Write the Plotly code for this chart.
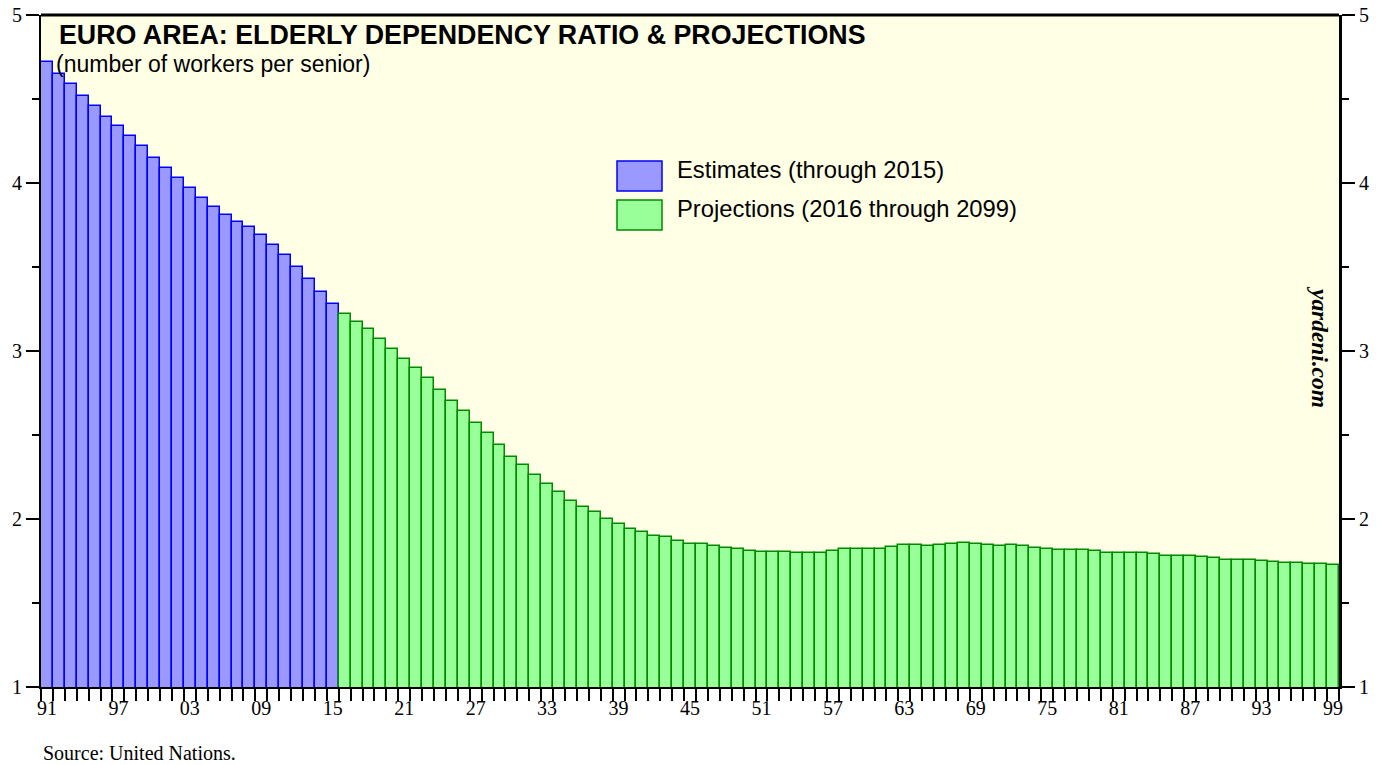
import plotly.graph_objects as go

# ---------------- data ----------------
est_years = list(range(1990, 2016))
est_values = [4.81, 4.72, 4.65, 4.59, 4.52, 4.46, 4.39, 4.34, 4.28, 4.22, 4.15,
              4.09, 4.03, 3.97, 3.91, 3.86, 3.81, 3.77, 3.74, 3.69, 3.63,
              3.57, 3.50, 3.43, 3.35, 3.28]

proj_years = list(range(2016, 2100))
proj_values = [3.22, 3.17, 3.13, 3.07, 3.01, 2.95, 2.90, 2.84, 2.77, 2.70,   # 2016-2025
               2.64, 2.57, 2.51, 2.44, 2.37, 2.32, 2.26, 2.21, 2.16, 2.11,   # 2026-2035
               2.07, 2.04, 2.00, 1.97, 1.94, 1.92, 1.90, 1.89, 1.87, 1.85,   # 2036-2045
               1.85, 1.84, 1.83, 1.82, 1.81, 1.805, 1.805, 1.805, 1.80, 1.80, # 2046-2055
               1.80, 1.81, 1.82, 1.82, 1.82, 1.823, 1.835, 1.843, 1.845, 1.84, # 2056-2065
               1.847, 1.853, 1.855, 1.85, 1.843, 1.84, 1.843, 1.837, 1.83, 1.82, # 2066-2075
               1.813, 1.813, 1.817, 1.81, 1.80, 1.80, 1.80, 1.798, 1.79, 1.78,   # 2076-2085
               1.778, 1.778, 1.776, 1.768, 1.756, 1.756, 1.754, 1.752, 1.744, 1.736, # 2086-2095
               1.736, 1.734, 1.732, 1.724]                                   # 2096-2099

label_years = list(range(1991, 2100, 6))
label_text = [f"{y % 100:02d}" for y in label_years]
boundary_ticks = [y + 0.5 for y in range(1990, 2100)]

y_major = [1, 2, 3, 4, 5]
y_minor = [1.5, 2.5, 3.5, 4.5]

legend_labels = ["Estimates (through 2015)", "Projections (2016 through 2099)"]

# ---------------- styling ----------------
W, H = 1380, 765
# target plot area on screen: x 41..1339, y 15..687
L, T = 41, 15
R = W - 1339
B = H - 687
PW, PH = W - L - R, H - T - B

def px(x):
    return (x - L) / PW

def py(y):
    return (H - B - y) / PH

BLUE_FILL, BLUE_LINE = "#9999FF", "#0000FF"
GREEN_FILL, GREEN_LINE = "#99FF99", "#008A00"
SERIF = "Liberation Serif"
SANS = "Liberation Sans"

fig = go.Figure()
fig.add_trace(go.Bar(x=est_years, y=est_values, name=legend_labels[0],
                     marker=dict(color=BLUE_FILL, line=dict(color=BLUE_LINE, width=1.5)),
                     showlegend=False))
fig.add_trace(go.Bar(x=proj_years, y=proj_values, name=legend_labels[1],
                     marker=dict(color=GREEN_FILL, line=dict(color=GREEN_LINE, width=1.5)),
                     showlegend=False))
# invisible trace to activate the right-hand axis
fig.add_trace(go.Scatter(x=[2000], y=[3], yaxis="y2", mode="markers",
                         marker=dict(opacity=0), showlegend=False, hoverinfo="skip"))

fig.update_layout(
    width=W, height=H,
    margin=dict(l=L, r=R, t=T, b=B),
    paper_bgcolor="white",
    plot_bgcolor="#FFFFE6",
    bargap=0,
    barmode="overlay",
    xaxis=dict(
        range=[1990.5, 2099.5], tickmode="array", tickvals=label_years, ticktext=label_text,
        ticks="outside", ticklen=12, tickwidth=2, tickcolor="rgba(0,0,0,0)",
        showgrid=False, zeroline=False, automargin=False,
        showline=True, linecolor="black", linewidth=1.5,
        tickfont=dict(family=SERIF, size=20, color="black"),
        ticklabelstandoff=-10, ticklabeloverflow="allow",
        minor=dict(tickmode="array", tickvals=boundary_ticks, ticks="outside",
                   ticklen=12, tickwidth=2, tickcolor="black", showgrid=False),
    ),
    yaxis=dict(
        range=[1, 5], tickmode="array", tickvals=y_major, ticks="outside",
        ticklen=13, tickwidth=1.5, tickcolor="black", showgrid=False, zeroline=False,
        showline=True, linecolor="black", linewidth=2, layer="below traces",
        automargin=False, ticklabeloverflow="allow",
        tickfont=dict(family=SERIF, size=20, color="black"),
        minor=dict(tickmode="array", tickvals=y_minor, ticks="outside",
                   ticklen=7, tickwidth=1.5, tickcolor="black", showgrid=False),
    ),
    yaxis2=dict(
        range=[1, 5], overlaying="y", side="right", tickmode="array", tickvals=y_major,
        ticks="outside", ticklen=13, tickwidth=1.5, tickcolor="black",
        showgrid=False, zeroline=False, automargin=False, ticklabeloverflow="allow",
        showline=True, linecolor="black", linewidth=3,
        tickfont=dict(family=SERIF, size=20, color="black"),
        minor=dict(tickmode="array", tickvals=y_minor, ticks="outside",
                   ticklen=7, tickwidth=1.5, tickcolor="black", showgrid=False),
    ),
)

# top border of plot area
fig.add_shape(type="line", xref="paper", yref="paper", x0=0, x1=1, y0=1, y1=1,
              line=dict(color="black", width=3))

# legend swatches
for i, (fill, line) in enumerate([(BLUE_FILL, BLUE_LINE), (GREEN_FILL, GREEN_LINE)]):
    top = 161 + i * 39
    fig.add_shape(type="rect", xref="paper", yref="paper",
                  x0=px(617), x1=px(662), y0=py(top), y1=py(top + 30),
                  fillcolor=fill, line=dict(color=line, width=1.5))
    fig.add_annotation(text=legend_labels[i], xref="paper", yref="paper",
                       x=px(675), y=py(top + 9), xanchor="left", yanchor="middle",
                       showarrow=False, font=dict(family=SANS, size=23.8, color="black"))

fig.add_annotation(text="<b>EURO AREA: ELDERLY DEPENDENCY RATIO & PROJECTIONS</b>",
                   xref="paper", yref="paper", x=px(57), y=py(35),
                   xanchor="left", yanchor="middle", showarrow=False,
                   font=dict(family=SANS, size=26.8, color="black"))
fig.add_annotation(text="(number of workers per senior)",
                   xref="paper", yref="paper", x=px(54), y=py(64),
                   xanchor="left", yanchor="middle", showarrow=False,
                   font=dict(family=SANS, size=23, color="black"))
fig.add_annotation(text="<b><i>yardeni.com</i></b>",
                   xref="paper", yref="paper", x=px(1320), y=py(347),
                   xanchor="center", yanchor="middle", textangle=90, showarrow=False,
                   font=dict(family=SERIF, size=23.4, color="black"))
fig.add_annotation(text="Source: United Nations.",
                   xref="paper", yref="paper", x=px(41), y=py(753),
                   xanchor="left", yanchor="middle", showarrow=False,
                   font=dict(family=SERIF, size=20, color="black"))

fig.write_html("out.html", config={"displayModeBar": False},
               post_script="document.body.style.margin='0';document.body.style.overflow='hidden';")
